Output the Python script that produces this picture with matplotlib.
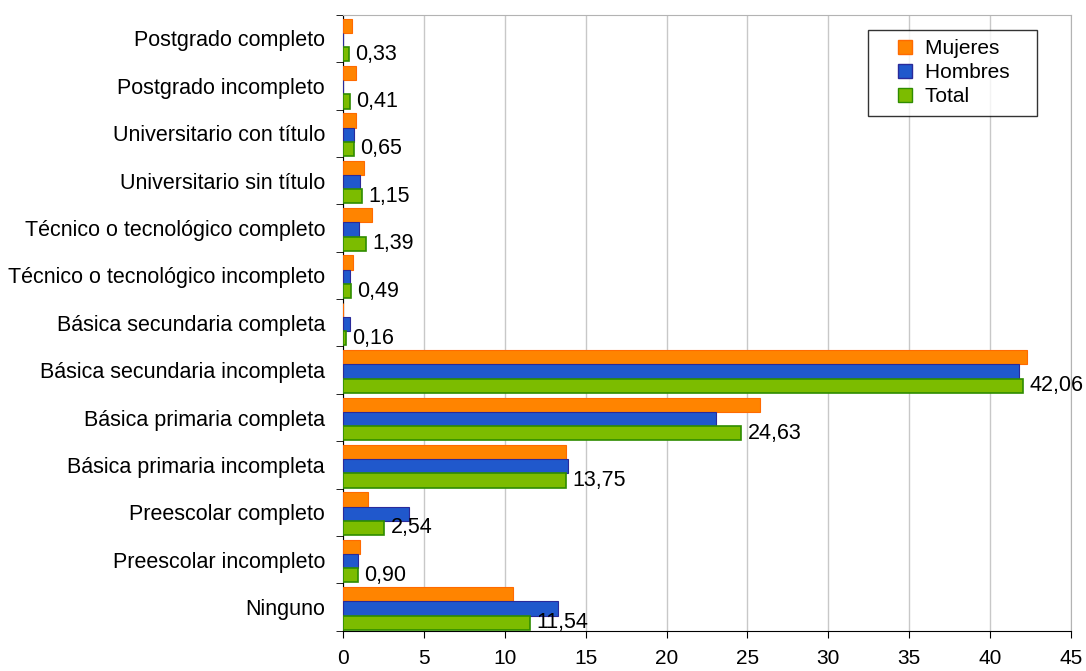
import numpy as np
import matplotlib.pyplot as plt
from matplotlib.lines import Line2D

plt.rcParams['font.family'] = ['Liberation Sans', 'DejaVu Sans']

# categories listed bottom to top
categorias = ["Ninguno", "Preescolar incompleto", "Preescolar completo",
              "Básica primaria incompleta", "Básica primaria completa",
              "Básica secundaria incompleta", "Básica secundaria completa",
              "Técnico o tecnológico incompleto", "Técnico o tecnológico completo",
              "Universitario sin título", "Universitario con título",
              "Postgrado incompleto", "Postgrado completo"]
mujeres = [10.5, 1.05, 1.55, 13.8, 25.8, 42.3, 0.0, 0.58, 1.8, 1.3, 0.78, 0.8, 0.55]
hombres = [13.3, 0.9, 4.1, 13.9, 23.05, 41.8, 0.45, 0.45, 0.95, 1.05, 0.68, 0.0, 0.0]
total = [11.54, 0.90, 2.54, 13.75, 24.63, 42.06, 0.16, 0.49, 1.39, 1.15, 0.65, 0.41, 0.33]

c_muj, c_hom, c_tot = "#ff8400", "#2058cc", "#7cbc00"

fig, ax = plt.subplots(figsize=(10.86, 6.71), dpi=100)
fig.subplots_adjust(left=0.316, right=0.986, top=0.978, bottom=0.06)

y = np.arange(len(categorias)) - 0.03
h = 0.3
ax.barh(y + h, mujeres, height=h, color=c_muj, edgecolor="#ff6a00", linewidth=0.8, zorder=3)
ax.barh(y, hombres, height=h, color=c_hom, edgecolor="#2a2a9a", linewidth=0.8, zorder=3)
ax.barh(y - h, total, height=h, color=c_tot, edgecolor="#2f8c00", linewidth=1.2, zorder=3)

for yi, v in zip(y, total):
    ax.text(v + 0.4, yi - h, f"{v:.2f}".replace(".", ","), va="center", ha="left", fontsize=15.5, zorder=4)

ax.set_xlim(0, 45)
ax.set_ylim(-0.5, len(categorias) - 0.5)
ax.set_xticks(np.arange(0, 46, 5))
ax.set_yticks(np.arange(len(categorias)))
ax.set_yticklabels(categorias)
ax.set_yticks(np.arange(-0.5, len(categorias), 1), minor=True)
ax.tick_params(axis="y", which="major", length=0, labelsize=15.5, pad=13)
ax.tick_params(axis="y", which="minor", length=5, direction="out")
ax.tick_params(axis="x", labelsize=15, length=5, direction="out", pad=8)
ax.xaxis.grid(True, color="#c8c8c8", linewidth=1, zorder=0)

for s in ["top", "right"]:
    ax.spines[s].set_color("#b3b3b3")
for s in ["left", "bottom"]:
    ax.spines[s].set_color("black")

handles = [Line2D([], [], ls="none", marker="s", markersize=10, markerfacecolor=c, markeredgecolor=e)
           for c, e in [(c_muj, "#ff6a00"), (c_hom, "#2a2a9a"), (c_tot, "#2f8c00")]]
leg = ax.legend(handles, ["Mujeres   ", "Hombres   ", "Total   "], loc="upper right",
                bbox_to_anchor=(0.953, 0.976), fontsize=15, frameon=True, fancybox=False,
                edgecolor="black", handlelength=2.6, borderpad=0.45, labelspacing=0.25,
                handletextpad=-0.3, borderaxespad=0)
leg.get_frame().set_linewidth(1)

fig.savefig("out.png", dpi=100)
